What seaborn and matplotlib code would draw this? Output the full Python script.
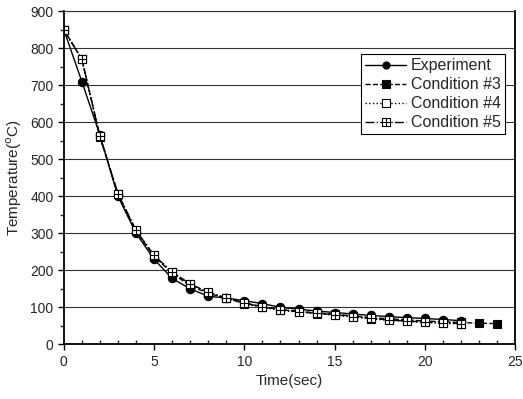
import numpy as np
import pandas as pd
import seaborn as sns
import matplotlib
matplotlib.use("Agg")
import matplotlib.pyplot as plt
from matplotlib.path import Path

# Values
time_exp = list(range(0, 23))
temp_exp = [850, 710, 565, 400, 300, 230, 178, 150, 130, 125, 118, 110,
            100, 95, 90, 86, 82, 78, 75, 72, 70, 67, 64]

time_c3 = list(range(0, 25))
temp_c3 = [850, 770, 562, 405, 306, 238, 192, 158, 138, 124, 112, 102,
           94, 89, 85, 81, 77, 72, 69, 66, 63, 61, 59, 57, 56]

time_c4 = list(range(0, 23))
temp_c4 = [850, 770, 560, 406, 307, 240, 195, 162, 140, 125, 110, 100,
           92, 87, 83, 79, 74, 69, 65, 62, 59, 57, 55]

time_c5 = list(range(0, 23))
temp_c5 = [850, 770, 562, 407, 308, 240, 196, 163, 141, 125, 111, 101,
           93, 88, 84, 80, 75, 70, 66, 63, 60, 58, 56]

labels = ["Experiment", "Condition #3", "Condition #4", "Condition #5"]

# square with a cross inside (boxplus)
box_plus = Path(
    [(-1, -1), (1, -1), (1, 1), (-1, 1), (-1, -1), (0, -1), (0, 1), (-1, 0), (1, 0)],
    [Path.MOVETO, Path.LINETO, Path.LINETO, Path.LINETO, Path.CLOSEPOLY,
     Path.MOVETO, Path.LINETO, Path.MOVETO, Path.LINETO])

sns.set_theme(style="white")
plt.rcParams['font.family'] = ['Liberation Sans', 'DejaVu Sans']

fig, ax = plt.subplots(figsize=(5.23, 3.99), dpi=100)

series = [
    (time_exp, temp_exp, labels[0], dict(linestyle='-', marker='o', markerfacecolor='black', markersize=6)),
    (time_c3, temp_c3, labels[1], dict(linestyle='--', marker='s', markerfacecolor='black', markersize=6)),
    (time_c4, temp_c4, labels[2], dict(linestyle=':', marker='s', markerfacecolor='white', markersize=6)),
    (time_c5, temp_c5, labels[3], dict(linestyle='-.', marker=box_plus, markerfacecolor='white', markersize=6)),
]
for x, y, lab, kw in series:
    df = pd.DataFrame({'Time': x, 'Temp': y})
    sns.lineplot(data=df, x='Time', y='Temp', ax=ax, color='black', linewidth=1,
                 markeredgecolor='black', markeredgewidth=0.8, label=lab, **kw)

ax.set_xlim(0, 25)
ax.set_ylim(0, 900)
ax.set_xticks(np.arange(0, 26, 5))
ax.set_xticks(np.arange(0, 26, 1), minor=True)
ax.set_yticks(np.arange(0, 901, 100))
ax.set_yticks(np.arange(0, 901, 50), minor=True)
ax.yaxis.grid(True, which='major', color='#333333', linewidth=0.8)
ax.set_axisbelow(True)

ax.tick_params(axis='both', which='major', direction='out', length=4, width=1,
               labelsize=10, color='black', bottom=True, left=True)
ax.tick_params(axis='x', which='minor', direction='in', length=3, width=1, bottom=True)
ax.tick_params(axis='y', which='minor', direction='out', length=3, width=1, left=True)

for side in ['left', 'bottom', 'right']:
    ax.spines[side].set_color('black')
    ax.spines[side].set_linewidth(1.3)
ax.spines['top'].set_color('#333333')
ax.spines['top'].set_linewidth(0.8)

ax.set_xlabel('Time(sec)', fontsize=11)
ax.set_ylabel('Temperature($^{\\mathrm{o}}$C)', fontsize=11)

leg = ax.legend(loc='upper right', bbox_to_anchor=(0.978, 0.87), fontsize=11.5,
                frameon=True, fancybox=False, edgecolor='black', framealpha=1,
                handlelength=2.6, handletextpad=0.3, borderpad=0.25, labelspacing=0.25,
                borderaxespad=0, markerscale=0.85)
leg.get_frame().set_linewidth(0.8)

fig.subplots_adjust(left=0.122, right=0.985, bottom=0.137, top=0.972)
fig.savefig('out.png', dpi=100)
